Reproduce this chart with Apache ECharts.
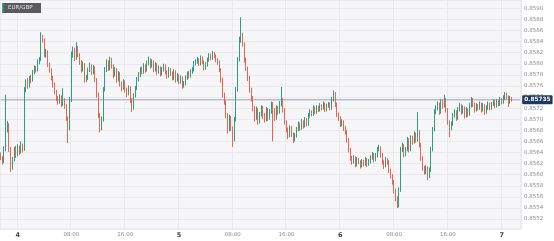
<!DOCTYPE html>
<html><head><meta charset="utf-8">
<script src="https://cdn.jsdelivr.net/npm/echarts@6/dist/echarts.min.js"></script>
<style>html,body{margin:0;padding:0;background:#fff}#c{width:554px;height:241px}</style>
</head><body><div id="c"></div>
<script>
const symbolName = 'EUR/GBP';
const lastPrice = 0.85735;
const yMin = 0.85502, yMax = 0.85915;
const hourTicks = ['08:00', '16:00'];
const startDay = 3, startMinute = 21 * 60 + 30, stepMinutes = 15, slotCount = 310;

const opens = [
0.85635,0.85630,0.85623,0.85645,0.85681,0.85690,0.85645,0.85612,0.85627,0.85645,
0.85636,0.85648,0.85641,0.85652,0.85645,0.85753,0.85767,0.85760,0.85774,0.85771,
0.85785,0.85792,0.85789,0.85803,0.85807,0.85846,0.85843,0.85816,0.85821,0.85798,
0.85789,0.85774,0.85762,0.85749,0.85738,0.85731,0.85740,0.85727,0.85735,0.85724,
0.85702,0.85684,0.85735,0.85816,0.85825,0.85810,0.85828,0.85816,0.85803,0.85789,
0.85798,0.85771,0.85774,0.85789,0.85796,0.85785,0.85792,0.85771,0.85744,0.85708,
0.85684,0.85699,0.85753,0.85789,0.85803,0.85792,0.85807,0.85796,0.85780,0.85789,
0.85771,0.85782,0.85764,0.85756,0.85767,0.85753,0.85746,0.85756,0.85735,0.85720,
0.85742,0.85756,0.85771,0.85780,0.85789,0.85785,0.85796,0.85789,0.85800,0.85807,
0.85796,0.85803,0.85789,0.85798,0.85785,0.85792,0.85782,0.85789,0.85796,0.85785,
0.85778,0.85789,0.85782,0.85774,0.85785,0.85771,0.85778,0.85767,0.85774,0.85760,
0.85764,0.85774,0.85782,0.85778,0.85785,0.85789,0.85800,0.85803,0.85807,0.85800,
0.85810,0.85803,0.85792,0.85798,0.85807,0.85814,0.85810,0.85818,0.85814,0.85807,
0.85803,0.85789,0.85771,0.85744,0.85731,0.85708,0.85681,0.85702,0.85684,0.85663,
0.85699,0.85753,0.85807,0.85843,0.85850,0.85836,0.85807,0.85792,0.85774,0.85753,
0.85738,0.85720,0.85702,0.85717,0.85695,0.85708,0.85720,0.85706,0.85699,0.85717,
0.85702,0.85713,0.85727,0.85717,0.85702,0.85720,0.85713,0.85727,0.85735,0.85717,
0.85695,0.85681,0.85670,0.85684,0.85673,0.85663,0.85670,0.85681,0.85691,0.85684,
0.85695,0.85688,0.85699,0.85691,0.85706,0.85713,0.85709,0.85720,0.85713,0.85720,
0.85717,0.85724,0.85720,0.85727,0.85717,0.85724,0.85727,0.85720,0.85735,0.85746,
0.85727,0.85709,0.85702,0.85691,0.85695,0.85684,0.85677,0.85663,0.85645,0.85630,
0.85623,0.85630,0.85618,0.85627,0.85623,0.85616,0.85623,0.85619,0.85627,0.85619,
0.85623,0.85630,0.85636,0.85627,0.85634,0.85645,0.85648,0.85636,0.85623,0.85616,
0.85627,0.85623,0.85608,0.85598,0.85587,0.85572,0.85558,0.85545,0.85572,0.85645,
0.85652,0.85636,0.85645,0.85663,0.85645,0.85666,0.85659,0.85673,0.85663,0.85677,
0.85654,0.85630,0.85612,0.85605,0.85612,0.85598,0.85608,0.85645,0.85681,0.85713,
0.85720,0.85727,0.85713,0.85731,0.85724,0.85735,0.85717,0.85695,0.85684,0.85691,
0.85706,0.85713,0.85702,0.85717,0.85724,0.85713,0.85720,0.85706,0.85717,0.85709,
0.85724,0.85735,0.85727,0.85717,0.85724,0.85720,0.85727,0.85717,0.85724,0.85713,
0.85720,0.85727,0.85720,0.85727,0.85731,0.85724,0.85731,0.85727,0.85735,0.85731,
0.85738,0.85744,0.85740,0.85731,0.85738
];
const closes = [
0.85630,0.85623,0.85645,0.85681,0.85690,0.85645,0.85612,0.85627,0.85645,0.85636,
0.85648,0.85641,0.85652,0.85645,0.85753,0.85767,0.85760,0.85774,0.85771,0.85785,
0.85792,0.85789,0.85803,0.85807,0.85846,0.85843,0.85816,0.85821,0.85798,0.85789,
0.85774,0.85762,0.85749,0.85738,0.85731,0.85740,0.85727,0.85735,0.85724,0.85702,
0.85684,0.85735,0.85816,0.85825,0.85810,0.85828,0.85816,0.85803,0.85789,0.85798,
0.85771,0.85774,0.85789,0.85796,0.85785,0.85792,0.85771,0.85744,0.85708,0.85684,
0.85699,0.85753,0.85789,0.85803,0.85792,0.85807,0.85796,0.85780,0.85789,0.85771,
0.85782,0.85764,0.85756,0.85767,0.85753,0.85746,0.85756,0.85735,0.85720,0.85742,
0.85756,0.85771,0.85780,0.85789,0.85785,0.85796,0.85789,0.85800,0.85807,0.85796,
0.85803,0.85789,0.85798,0.85785,0.85792,0.85782,0.85789,0.85796,0.85785,0.85778,
0.85789,0.85782,0.85774,0.85785,0.85771,0.85778,0.85767,0.85774,0.85760,0.85764,
0.85774,0.85782,0.85778,0.85785,0.85789,0.85800,0.85803,0.85807,0.85800,0.85810,
0.85803,0.85792,0.85798,0.85807,0.85814,0.85810,0.85818,0.85814,0.85807,0.85803,
0.85789,0.85771,0.85744,0.85731,0.85708,0.85681,0.85702,0.85684,0.85663,0.85699,
0.85753,0.85807,0.85843,0.85850,0.85836,0.85807,0.85792,0.85774,0.85753,0.85738,
0.85720,0.85702,0.85717,0.85695,0.85708,0.85720,0.85706,0.85699,0.85717,0.85702,
0.85713,0.85727,0.85717,0.85702,0.85720,0.85713,0.85727,0.85735,0.85717,0.85695,
0.85681,0.85670,0.85684,0.85673,0.85663,0.85670,0.85681,0.85691,0.85684,0.85695,
0.85688,0.85699,0.85691,0.85706,0.85713,0.85709,0.85720,0.85713,0.85720,0.85717,
0.85724,0.85720,0.85727,0.85717,0.85724,0.85727,0.85720,0.85735,0.85746,0.85727,
0.85709,0.85702,0.85691,0.85695,0.85684,0.85677,0.85663,0.85645,0.85630,0.85623,
0.85630,0.85618,0.85627,0.85623,0.85616,0.85623,0.85619,0.85627,0.85619,0.85623,
0.85630,0.85636,0.85627,0.85634,0.85645,0.85648,0.85636,0.85623,0.85616,0.85627,
0.85623,0.85608,0.85598,0.85587,0.85572,0.85558,0.85545,0.85572,0.85645,0.85652,
0.85636,0.85645,0.85663,0.85645,0.85666,0.85659,0.85673,0.85663,0.85677,0.85654,
0.85630,0.85612,0.85605,0.85612,0.85598,0.85608,0.85645,0.85681,0.85713,0.85720,
0.85727,0.85713,0.85731,0.85724,0.85735,0.85717,0.85695,0.85684,0.85691,0.85706,
0.85713,0.85702,0.85717,0.85724,0.85713,0.85720,0.85706,0.85717,0.85709,0.85724,
0.85735,0.85727,0.85717,0.85724,0.85720,0.85727,0.85717,0.85724,0.85713,0.85720,
0.85727,0.85720,0.85727,0.85731,0.85724,0.85731,0.85727,0.85735,0.85731,0.85738,
0.85744,0.85740,0.85731,0.85738,0.85735
];
const highs = [
0.85640,0.85633,0.85651,0.85744,0.85697,0.85693,0.85650,0.85632,0.85650,0.85652,
0.85655,0.85652,0.85660,0.85656,0.85758,0.85772,0.85774,0.85778,0.85780,0.85789,
0.85797,0.85796,0.85808,0.85812,0.85857,0.85852,0.85846,0.85827,0.85824,0.85802,
0.85792,0.85778,0.85766,0.85753,0.85742,0.85745,0.85743,0.85756,0.85738,0.85727,
0.85705,0.85740,0.85822,0.85831,0.85829,0.85839,0.85832,0.85819,0.85807,0.85804,
0.85801,0.85780,0.85793,0.85802,0.85799,0.85798,0.85795,0.85774,0.85748,0.85711,
0.85705,0.85758,0.85794,0.85808,0.85806,0.85813,0.85811,0.85799,0.85794,0.85792,
0.85787,0.85785,0.85768,0.85772,0.85770,0.85757,0.85761,0.85759,0.85738,0.85747,
0.85760,0.85776,0.85785,0.85794,0.85795,0.85801,0.85799,0.85806,0.85813,0.85810,
0.85808,0.85806,0.85803,0.85801,0.85797,0.85795,0.85794,0.85800,0.85799,0.85788,
0.85794,0.85792,0.85786,0.85790,0.85788,0.85783,0.85781,0.85779,0.85777,0.85769,
0.85779,0.85786,0.85787,0.85790,0.85794,0.85805,0.85808,0.85812,0.85810,0.85815,
0.85813,0.85806,0.85803,0.85811,0.85819,0.85818,0.85823,0.85821,0.85817,0.85810,
0.85806,0.85792,0.85775,0.85748,0.85734,0.85711,0.85708,0.85706,0.85687,0.85704,
0.85758,0.85812,0.85849,0.85884,0.85856,0.85839,0.85811,0.85795,0.85778,0.85757,
0.85742,0.85724,0.85723,0.85720,0.85713,0.85725,0.85724,0.85711,0.85722,0.85720,
0.85718,0.85732,0.85731,0.85720,0.85725,0.85724,0.85733,0.85758,0.85738,0.85720,
0.85698,0.85685,0.85689,0.85688,0.85676,0.85675,0.85686,0.85696,0.85694,0.85700,
0.85698,0.85704,0.85702,0.85711,0.85718,0.85716,0.85725,0.85723,0.85725,0.85724,
0.85729,0.85727,0.85732,0.85730,0.85728,0.85731,0.85730,0.85740,0.85752,0.85749,
0.85730,0.85712,0.85705,0.85700,0.85698,0.85688,0.85680,0.85666,0.85648,0.85634,
0.85635,0.85633,0.85632,0.85630,0.85626,0.85628,0.85627,0.85632,0.85630,0.85628,
0.85635,0.85641,0.85639,0.85639,0.85650,0.85654,0.85651,0.85639,0.85626,0.85632,
0.85630,0.85626,0.85611,0.85601,0.85590,0.85575,0.85561,0.85577,0.85650,0.85658,
0.85655,0.85650,0.85668,0.85666,0.85671,0.85670,0.85678,0.85676,0.85713,0.85680,
0.85657,0.85633,0.85616,0.85617,0.85615,0.85613,0.85650,0.85686,0.85718,0.85725,
0.85732,0.85730,0.85736,0.85735,0.85744,0.85738,0.85720,0.85698,0.85696,0.85711,
0.85718,0.85716,0.85722,0.85729,0.85727,0.85725,0.85723,0.85722,0.85720,0.85729,
0.85740,0.85738,0.85730,0.85729,0.85727,0.85732,0.85730,0.85729,0.85727,0.85725,
0.85732,0.85730,0.85731,0.85736,0.85734,0.85736,0.85734,0.85740,0.85738,0.85743,
0.85749,0.85748,0.85743,0.85742,0.85740
];
const lows = [
0.85626,0.85618,0.85621,0.85642,0.85676,0.85641,0.85605,0.85609,0.85624,0.85630,
0.85633,0.85636,0.85638,0.85640,0.85643,0.85749,0.85755,0.85757,0.85765,0.85768,
0.85781,0.85784,0.85786,0.85799,0.85805,0.85838,0.85812,0.85811,0.85794,0.85784,
0.85770,0.85757,0.85745,0.85733,0.85726,0.85728,0.85722,0.85724,0.85719,0.85697,
0.85657,0.85680,0.85731,0.85811,0.85805,0.85807,0.85812,0.85798,0.85784,0.85786,
0.85766,0.85767,0.85771,0.85785,0.85780,0.85781,0.85767,0.85739,0.85702,0.85676,
0.85680,0.85696,0.85750,0.85785,0.85787,0.85788,0.85791,0.85774,0.85777,0.85766,
0.85768,0.85759,0.85750,0.85753,0.85748,0.85740,0.85743,0.85729,0.85713,0.85717,
0.85739,0.85753,0.85768,0.85776,0.85781,0.85782,0.85784,0.85786,0.85797,0.85791,
0.85793,0.85785,0.85786,0.85780,0.85782,0.85777,0.85779,0.85786,0.85781,0.85773,
0.85775,0.85778,0.85770,0.85771,0.85766,0.85768,0.85763,0.85764,0.85755,0.85757,
0.85761,0.85771,0.85774,0.85775,0.85782,0.85786,0.85797,0.85800,0.85796,0.85797,
0.85799,0.85788,0.85789,0.85795,0.85804,0.85806,0.85807,0.85810,0.85803,0.85798,
0.85785,0.85766,0.85739,0.85726,0.85702,0.85674,0.85678,0.85679,0.85650,0.85660,
0.85696,0.85750,0.85804,0.85838,0.85831,0.85802,0.85787,0.85769,0.85748,0.85732,
0.85714,0.85696,0.85699,0.85690,0.85692,0.85705,0.85700,0.85694,0.85696,0.85697,
0.85699,0.85710,0.85660,0.85697,0.85699,0.85708,0.85710,0.85723,0.85712,0.85690,
0.85676,0.85664,0.85667,0.85668,0.85657,0.85660,0.85667,0.85678,0.85679,0.85681,
0.85683,0.85685,0.85687,0.85688,0.85703,0.85705,0.85706,0.85709,0.85710,0.85713,
0.85714,0.85716,0.85717,0.85713,0.85714,0.85721,0.85716,0.85717,0.85732,0.85722,
0.85704,0.85697,0.85686,0.85687,0.85679,0.85672,0.85658,0.85640,0.85625,0.85618,
0.85620,0.85613,0.85615,0.85619,0.85611,0.85613,0.85615,0.85616,0.85614,0.85616,
0.85620,0.85627,0.85622,0.85624,0.85631,0.85642,0.85631,0.85618,0.85610,0.85613,
0.85618,0.85603,0.85593,0.85582,0.85566,0.85552,0.85540,0.85541,0.85569,0.85641,
0.85631,0.85633,0.85642,0.85640,0.85642,0.85654,0.85656,0.85658,0.85660,0.85649,
0.85625,0.85607,0.85600,0.85601,0.85590,0.85594,0.85605,0.85642,0.85678,0.85709,
0.85716,0.85708,0.85710,0.85719,0.85721,0.85712,0.85690,0.85668,0.85680,0.85688,
0.85703,0.85697,0.85699,0.85714,0.85708,0.85710,0.85701,0.85703,0.85704,0.85706,
0.85721,0.85722,0.85712,0.85714,0.85716,0.85717,0.85712,0.85714,0.85708,0.85710,
0.85717,0.85716,0.85717,0.85724,0.85720,0.85721,0.85723,0.85724,0.85727,0.85728,
0.85735,0.85736,0.85722,0.85728,0.85732
];

const categories = [];
for (let i = 0; i < slotCount; i++) {
  const t = startMinute + i * stepMinutes;
  const d = startDay + Math.floor(t / 1440);
  const m = t % 1440;
  categories.push(d + ' ' + String(Math.floor(m / 60)).padStart(2, '0') + ':' + String(m % 60).padStart(2, '0'));
}
const candles = opens.map((o, i) => [o, closes[i], lows[i], highs[i]]);
const priceLine = [[categories[0], lastPrice], [categories[slotCount - 1], lastPrice]];

const isTick = (idx, val) => {
  const hm = String(val).split(' ')[1];
  return hm === '00:00' || hourTicks.indexOf(hm) >= 0;
};

const chart = echarts.init(document.getElementById('c'), null, { renderer: 'canvas' });
chart.setOption({
  animation: false,
  backgroundColor: '#ffffff',
  grid: { left: 0, right: 33, top: 0, bottom: 12, show: true, backgroundColor: '#f6f6f8', borderColor: '#e2e2ea', borderWidth: 1 },
  xAxis: {
    type: 'category', data: categories, boundaryGap: true,
    axisLine: { show: false }, axisTick: { show: false },
    axisLabel: {
      interval: isTick, margin: 3,
      formatter: (val) => {
        const parts = String(val).split(' ');
        return parts[1] === '00:00' ? '{d|' + parts[0] + '}' : '{h|' + parts[1] + '}';
      },
      rich: {
        d: { fontSize: 6.5, fontWeight: 'bold', color: '#444', fontFamily: 'DejaVu Sans' },
        h: { fontSize: 5.5, color: '#888', fontFamily: 'DejaVu Sans' }
      }
    },
    splitLine: { show: true, interval: isTick, lineStyle: { color: '#e9e9ee', width: 1 } }
  },
  yAxis: {
    type: 'value', position: 'right', min: yMin, max: yMax, splitNumber: 19, scale: true,
    axisLine: { show: false }, axisTick: { show: false },
    axisLabel: { showMinLabel: false, showMaxLabel: false, margin: 3, fontSize: 5.5, color: '#8a8a8a', fontFamily: 'DejaVu Sans', formatter: (v) => v.toFixed(4) },
    splitLine: { show: true, lineStyle: { color: '#e9e9ee', width: 1 } }
  },
  series: [
    {
      type: 'line', data: priceLine, showSymbol: false, silent: true, z: 1,
      lineStyle: { color: '#9aa1b2', width: 1 },
      endLabel: { show: true, distance: 2, formatter: () => lastPrice.toFixed(5), backgroundColor: '#1f3a5f', color: '#ffffff', fontSize: 5.8, fontWeight: 'bold', fontFamily: 'DejaVu Sans', padding: [2, 2, 1, 2], borderRadius: 1 }
    },
    {
      type: 'candlestick', data: candles, barWidth: '62%', z: 3,
      itemStyle: { color: '#2f9e80', color0: '#e8654f', borderColor: '#2f9e80', borderColor0: '#e8654f', borderWidth: 1 }
    }
  ],
  graphic: [
    { type: 'rect', left: 2, top: 3, shape: { width: 39, height: 10 }, style: { fill: '#5a5a5a' }, z: 10 },
    { type: 'rect', left: 2, top: 3, shape: { width: 1.5, height: 10 }, style: { fill: '#35a37f' }, z: 11 },
    { type: 'text', left: 8, top: 5, style: { text: symbolName, fill: '#e6e6e6', font: '5.5px "DejaVu Sans"' }, z: 12 }
  ]
});
</script></body></html>
